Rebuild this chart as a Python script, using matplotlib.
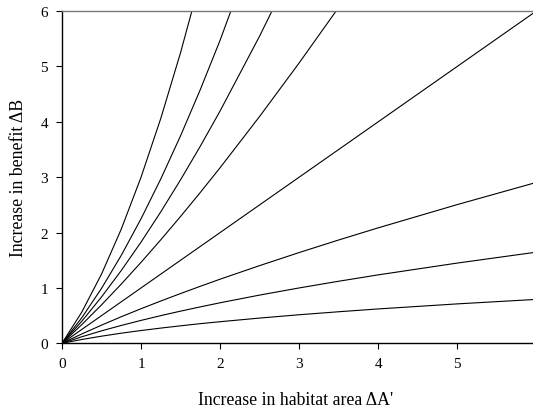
import matplotlib
matplotlib.use("Agg")
import matplotlib.pyplot as plt

plt.rcParams["font.family"] = ["Liberation Serif", "DejaVu Serif"]

# habitat area increase (shared x samples)
area = [0, 0.25, 0.5, 0.75, 1, 1.25, 1.5, 1.75, 2, 2.5, 3, 3.5, 4, 5, 6]

# benefit increase (lowest to highest)
benefit_curves = [
    [0, 0.069, 0.129, 0.183, 0.231, 0.275, 0.316, 0.355, 0.390, 0.456, 0.516, 0.570, 0.621, 0.712, 0.793],
    [0, 0.118, 0.225, 0.323, 0.414, 0.500, 0.581, 0.658, 0.732, 0.871, 1.000, 1.121, 1.236, 1.449, 1.646],
    [0, 0.169, 0.328, 0.480, 0.625, 0.764, 0.899, 1.030, 1.158, 1.403, 1.639, 1.866, 2.085, 2.505, 2.905],
    [0, 0.25, 0.5, 0.75, 1, 1.25, 1.5, 1.75, 2, 2.5, 3, 3.5, 4, 5, 6],
    [0, 0.337, 0.694, 1.070, 1.462, 1.870, 2.291, 2.725, 3.171, 4.097, 5.063, 6.066],
    [0, 0.398, 0.837, 1.315, 1.828, 2.375, 2.953, 3.560, 4.196, 5.548, 7.000],
    [0, 0.461, 0.992, 1.589, 2.249, 2.969, 3.748, 4.583, 5.473, 7.412],
    [0, 0.5625, 1.25, 2.0625, 3.0, 4.0625, 5.25, 6.5625],
]

x_ticks = [0, 1, 2, 3, 4, 5, 6]
y_ticks = [0, 1, 2, 3, 4, 5, 6]

fig = plt.figure(figsize=(5.33, 4.10), dpi=100)
fig.patch.set_facecolor("white")
ax = fig.add_axes([0.1163, 0.1602, 0.890, 0.8105])

for ys in benefit_curves:
    ax.plot(area[:len(ys)], ys, color="black", linewidth=0.8)

ax.set_xlim(0, 6)
ax.set_ylim(0, 6)
ax.set_xticks(x_ticks)
ax.set_yticks(y_ticks)
ax.tick_params(direction="out", length=4, width=0.8, labelsize=11, pad=6)

for side in ["left", "bottom"]:
    ax.spines[side].set_linewidth(1.0)
    ax.spines[side].set_color("black")
ax.spines["top"].set_color("#777777")
ax.spines["top"].set_linewidth(1.0)
ax.spines["right"].set_visible(False)

ax.set_xlabel("Increase in habitat area \u0394A'", fontsize=12.8)
ax.xaxis.set_label_coords(0.493, -0.144)
ax.set_ylabel("Increase in benefit \u0394B", fontsize=12.8)
ax.yaxis.set_label_coords(-0.074, 0.5)

fig.savefig("out.png", dpi=100)
